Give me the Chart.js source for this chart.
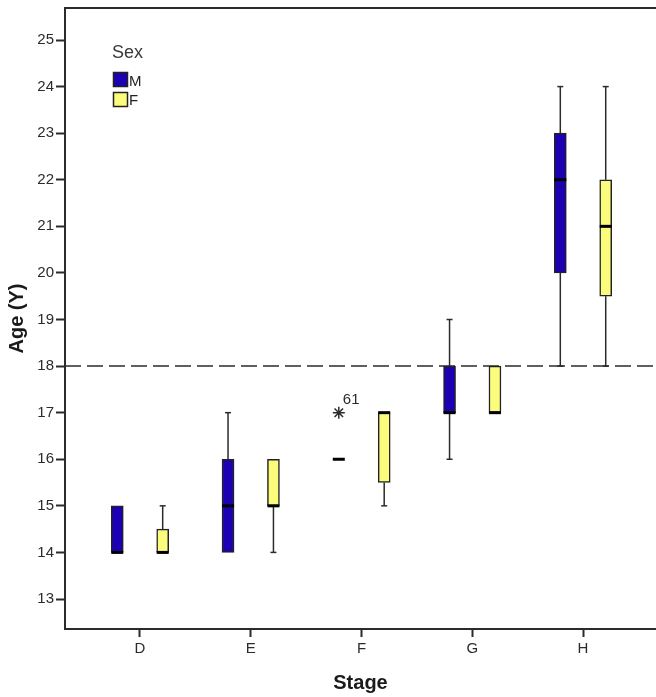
<!DOCTYPE html>
<html>
<head>
<meta charset="utf-8">
<script src="https://cdn.jsdelivr.net/npm/chart.js@4.4.1/dist/chart.umd.min.js"></script>
<style>
  html, body { margin: 0; padding: 0; background: #fff; overflow: hidden; }
  canvas { display: block; }
</style>
</head>
<body>
<canvas id="box" width="656" height="697"></canvas>
<script>
// stages on the x axis
const stages = ["D", "E", "F", "G", "H"];

// males
const maleMin = [14, 14, 16, 16, 18];
const maleQ1 = [14, 14, 16, 17, 20];
const maleMedian = [14, 15, 16, 17, 22];
const maleQ3 = [15, 16, 16, 18, 23];
const maleMax = [15, 17, 16, 19, 24];

// females
const femaleMin = [14, 14, 15, 17, 18];
const femaleQ1 = [14, 15, 15.5, 17, 19.5];
const femaleMedian = [14, 15, 17, 17, 21];
const femaleQ3 = [14.5, 16, 17, 18, 22];
const femaleMax = [15, 16, 17, 18, 24];

// extreme value (male, stage F)
const outlierStage = ["F"];
const outlierValue = [17];
const outlierLabel = ["61"];

const yTicks = [13, 14, 15, 16, 17, 18, 19, 20, 21, 22, 23, 24, 25];
const referenceAge = 18;

const shift = 0.205;
const maleX = stages.map((s, i) => i + 1 - shift);
const femaleX = stages.map((s, i) => i + 1 + shift);

const ink = "#2b2b2b";
const tickFont = { family: "'Liberation Sans', Arial, sans-serif", size: 15 };
const titleFont = { family: "'Liberation Sans', Arial, sans-serif", size: 20, weight: "bold" };

const boxPlugin = {
  id: "boxParts",
  beforeDatasetsDraw(chart) {
    const { ctx, chartArea, scales } = chart;
    const x = scales.x, y = scales.y;
    ctx.save();
    // dashed reference line
    ctx.strokeStyle = ink;
    ctx.lineWidth = 1.5;
    ctx.setLineDash([16, 6]);
    ctx.beginPath();
    ctx.moveTo(chartArea.left, y.getPixelForValue(referenceAge));
    ctx.lineTo(chartArea.right, y.getPixelForValue(referenceAge));
    ctx.stroke();
    ctx.setLineDash([]);
    // whiskers
    const whisk = (xs, lo, q1, q3, hi) => {
      xs.forEach((xv, i) => {
        const px = x.getPixelForValue(xv);
        [[lo[i], q1[i]], [q3[i], hi[i]]].forEach(([a, b]) => {
          if (a === b) return;
          ctx.beginPath();
          ctx.moveTo(px, y.getPixelForValue(a));
          ctx.lineTo(px, y.getPixelForValue(b));
          ctx.stroke();
        });
        [lo[i], hi[i]].forEach((v, k) => {
          if (v === (k === 0 ? q1[i] : q3[i])) return;
          const pv = y.getPixelForValue(v);
          ctx.beginPath();
          ctx.moveTo(px - 3, pv);
          ctx.lineTo(px + 3, pv);
          ctx.stroke();
        });
      });
    };
    whisk(maleX, maleMin, maleQ1, maleQ3, maleMax);
    whisk(femaleX, femaleMin, femaleQ1, femaleQ3, femaleMax);
    ctx.restore();
  },
  afterDraw(chart) {
    const { ctx, chartArea, scales } = chart;
    ctx.save();
    // top frame
    ctx.strokeStyle = ink;
    ctx.lineWidth = 2;
    ctx.beginPath();
    ctx.moveTo(chartArea.left - 1, chartArea.top);
    ctx.lineTo(chartArea.right, chartArea.top);
    ctx.stroke();
    // outlier labels
    ctx.fillStyle = ink;
    ctx.font = "15px 'Liberation Sans', Arial, sans-serif";
    ctx.textBaseline = "middle";
    outlierStage.forEach((s, i) => {
      const px = scales.x.getPixelForValue(stages.indexOf(s) + 1 - shift);
      const py = scales.y.getPixelForValue(outlierValue[i]);
      ctx.fillText(outlierLabel[i], px + 4, py - 13);
    });
    // legend
    ctx.fillStyle = "#3a3a3a";
    ctx.font = "18px 'Liberation Sans', Arial, sans-serif";
    ctx.fillText("Sex", 112, 53);
    ctx.lineWidth = 1.5;
    ctx.strokeStyle = "#222";
    ctx.fillStyle = "#1c00b4";
    ctx.fillRect(113.5, 72.5, 14, 14);
    ctx.strokeRect(113.5, 72.5, 14, 14);
    ctx.fillStyle = "#fcfc7c";
    ctx.fillRect(113.5, 92.5, 14, 14);
    ctx.strokeRect(113.5, 92.5, 14, 14);
    ctx.fillStyle = "#222";
    ctx.font = "15px 'Liberation Sans', Arial, sans-serif";
    ctx.fillText("M", 129, 82);
    ctx.fillText("F", 129, 101);
    ctx.restore();
  }
};

new Chart(document.getElementById("box"), {
  type: "bar",
  data: {
    datasets: [
      {
        type: "scatter",
        label: "median M",
        data: maleX.map((xv, i) => ({ x: xv, y: maleMedian[i] })),
        pointStyle: "line",
        radius: 6,
        borderWidth: 3,
        borderColor: "#000",
        order: 0,
      },
      {
        type: "scatter",
        label: "median F",
        data: femaleX.map((xv, i) => ({ x: xv, y: femaleMedian[i] })),
        pointStyle: "line",
        radius: 6,
        borderWidth: 3,
        borderColor: "#000",
        order: 0,
      },
      {
        type: "scatter",
        label: "extreme",
        data: outlierStage.map((s, i) => ({ x: stages.indexOf(s) + 1 - shift, y: outlierValue[i] })),
        pointStyle: "star",
        radius: 6,
        borderWidth: 1.5,
        borderColor: ink,
        order: 0,
      },
      {
        label: "M",
        data: maleX.map((xv, i) => ({ x: xv, y: [maleQ1[i], maleQ3[i]] })),
        backgroundColor: "#1c00b4",
        borderColor: "#222",
        borderWidth: 1.5,
        borderSkipped: false,
        barThickness: 12,
        grouped: false,
        order: 1,
      },
      {
        label: "F",
        data: femaleX.map((xv, i) => ({ x: xv, y: [femaleQ1[i], femaleQ3[i]] })),
        backgroundColor: "#fcfc7c",
        borderColor: "#222",
        borderWidth: 1.5,
        borderSkipped: false,
        barThickness: 12,
        grouped: false,
        order: 1,
      },
    ],
  },
  options: {
    responsive: false,
    animation: false,
    events: [],
    layout: { autoPadding: false, padding: { top: 8, left: 0, right: 0, bottom: 0 } },
    plugins: {
      legend: { display: false },
      tooltip: { enabled: false },
    },
    scales: {
      x: {
        type: "linear",
        min: 0.323,
        max: 5.659,
        offset: false,
        afterBuildTicks: (s) => { s.ticks = stages.map((st, i) => ({ value: i + 1 })); },
        afterFit: (s) => { s.height = 68; s.paddingLeft = 0; s.paddingRight = 0; },
        ticks: {
          font: tickFont,
          color: ink,
          padding: 3,
          maxRotation: 0,
          callback: (v, i) => stages[i],
        },
        grid: { drawOnChartArea: false, offset: false, tickLength: 8, tickWidth: 2, tickColor: ink },
        border: { color: ink, width: 2 },
        title: {
          display: true,
          text: "Stage",
          color: "#1a1a1a",
          font: titleFont,
          padding: { top: 0, bottom: 2 },
        },
      },
      y: {
        min: 12.356,
        max: 25.687,
        afterBuildTicks: (s) => { s.ticks = yTicks.map((v) => ({ value: v })); },
        afterFit: (s) => { s.width = 65; s.paddingTop = 0; s.paddingBottom = 0; },
        ticks: { font: tickFont, color: ink, padding: 2 },
        grid: { drawOnChartArea: false, tickLength: 9, tickWidth: 2, tickColor: ink },
        border: { color: ink, width: 2 },
        title: {
          display: true,
          text: "Age (Y)",
          color: "#1a1a1a",
          font: titleFont,
          padding: { top: 5, bottom: 0 },
        },
      },
    },
  },
  plugins: [boxPlugin],
});
</script>
</body>
</html>
